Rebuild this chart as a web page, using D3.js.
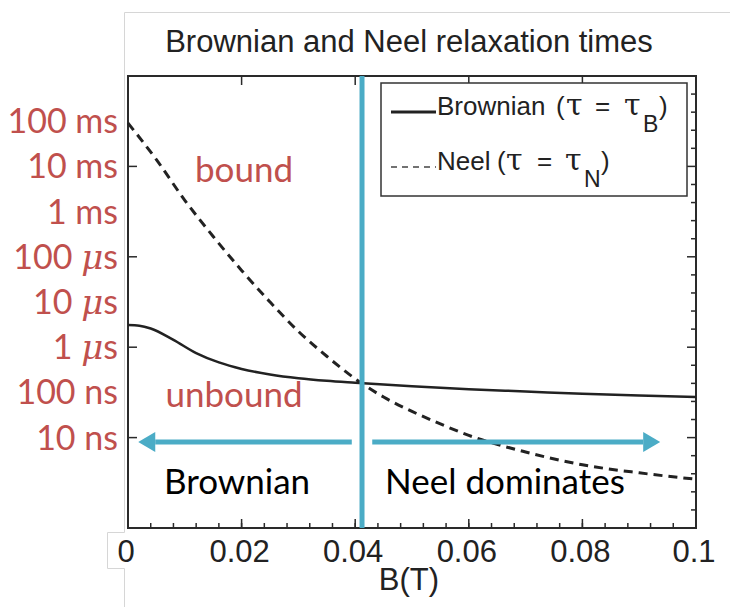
<!DOCTYPE html>
<html><head><meta charset="utf-8">
<script src="https://cdn.jsdelivr.net/npm/d3@7"></script>
<style>body{margin:0;background:#fff} svg{display:block}</style>
</head><body>
<svg id="c" width="730" height="607"></svg>
<script>
// ---- data ----
const bBrownian = [0, 0.002, 0.004, 0.008, 0.012, 0.016, 0.02, 0.025, 0.03, 0.035, 0.04, 0.05, 0.06, 0.07, 0.08, 0.09, 0.1];
const tauBrownian = [3.1e-6, 3.0e-6, 2.6e-6, 1.45e-6, 7.4e-7, 4.6e-7, 3.3e-7, 2.5e-7, 2.06e-7, 1.8e-7, 1.63e-7, 1.36e-7, 1.18e-7, 1.05e-7, 9.3e-8, 8.5e-8, 7.9e-8];
const bNeel = [0, 0.005, 0.01, 0.015, 0.02, 0.025, 0.03, 0.035, 0.04, 0.045, 0.05, 0.055, 0.06, 0.07, 0.08, 0.09, 0.1];
const tauNeel = [9.1e-2, 1.41e-2, 1.78e-3, 2.82e-4, 5.0e-5, 1.0e-5, 2.24e-6, 6.3e-7, 2.0e-7, 7.9e-8, 3.8e-8, 2.0e-8, 1.12e-8, 4.8e-9, 2.5e-9, 1.66e-9, 1.2e-9];
const xTickValues = [0, 0.02, 0.04, 0.06, 0.08, 0.1];
const xTickLabels = ["0", "0.02", "0.04", "0.06", "0.08", "0.1"];
const yLabelValues = [1e-1, 1e-2, 1e-3, 1e-4, 1e-5, 1e-6, 1e-7, 1e-8];
const yLabelNumbers = ["100", "10", "1", "100", "10", "1", "100", "10"];
const yLabelUnits = ["ms", "ms", "ms", "\u03bcs", "\u03bcs", "\u03bcs", "ns", "ns"];
const yMajorTicks = [1e-2, 1e-4, 1e-6, 1e-8];
const crossoverB = 0.0412;
const arrowLevel = 8e-9;
const arrowLeftB = [0.0394, 0.0018];
const arrowRightB = [0.043, 0.0937];

// ---- layout ----
const svg = d3.select("#c");
const L = 128, R = 696, T = 76, Bt = 528;
const x = d3.scaleLinear().domain([0, 0.1]).range([L, R]);
const y = d3.scaleLog().domain([1e-10, 1]).range([Bt, T]);
const ink = "#222";
const red = "#c0504d";
const blue = "#4bacc6";
const sans = "Liberation Sans, Arial, sans-serif";

// light grey frame of pasted figure
svg.append("path").attr("d", "M730,12.5H124.5V532.5H107.5V568.5H124.5V607")
  .attr("fill", "none").attr("stroke", "#d6d6d6").attr("stroke-width", 1);

// title
svg.append("text").attr("x", 409).attr("y", 52).attr("text-anchor", "middle")
  .attr("font-family", sans).attr("font-size", 31)
  .attr("fill", ink).text("Brownian and Neel relaxation times");

// axes box
svg.append("rect").attr("x", L).attr("y", T).attr("width", R - L).attr("height", Bt - T)
  .attr("fill", "none").attr("stroke", "#2a2a2a").attr("stroke-width", 2);

// ticks
const xMinor = d3.range(0, 26).map(i => i * 0.004).filter(v => v > 0 && v < 0.1);
const tk = svg.append("g").attr("stroke", "#2a2a2a").attr("stroke-width", 1.5);
xMinor.forEach(v => {
  tk.append("line").attr("x1", x(v)).attr("x2", x(v)).attr("y1", Bt).attr("y2", Bt - 5);
});
xTickValues.filter(v => v > 0 && v < 0.1).forEach(v => {
  tk.append("line").attr("x1", x(v)).attr("x2", x(v)).attr("y1", Bt).attr("y2", Bt - 9);
  tk.append("line").attr("x1", x(v)).attr("x2", x(v)).attr("y1", T).attr("y2", T + 9);
});
yMajorTicks.forEach(v => {
  tk.append("line").attr("x1", L).attr("x2", L + 9).attr("y1", y(v)).attr("y2", y(v));
  tk.append("line").attr("x1", R).attr("x2", R - 9).attr("y1", y(v)).attr("y2", y(v));
});
d3.range(1, 25).filter(k => k % 5 !== 0).map(k => Math.pow(10, -k * 0.4)).forEach(v => {
  tk.append("line").attr("x1", R).attr("x2", R - 5).attr("y1", y(v)).attr("y2", y(v));
});

// x tick labels
svg.append("g").selectAll("text").data(xTickValues).join("text")
  .attr("x", d => x(d) - 2).attr("y", 562).attr("text-anchor", "middle")
  .attr("font-family", sans).attr("font-size", 31)
  .attr("fill", ink).text((d, i) => xTickLabels[i]);
svg.append("text").attr("x", (L + R) / 2 - 3).attr("y", 590).attr("text-anchor", "middle")
  .attr("font-family", sans).attr("font-size", 31)
  .attr("fill", ink).text("B(T)");

// curves
const line = d3.line().x(d => x(d[0])).y(d => y(d[1])).curve(d3.curveMonotoneX);
svg.append("path").datum(bBrownian.map((b, i) => [b, tauBrownian[i]]))
  .attr("d", line).attr("fill", "none").attr("stroke", ink).attr("stroke-width", 2.5);
svg.append("path").datum(bNeel.map((b, i) => [b, tauNeel[i]]))
  .attr("d", line).attr("fill", "none").attr("stroke", ink).attr("stroke-width", 3)
  .attr("stroke-dasharray", "9,6");

// legend
svg.append("rect").attr("x", 381).attr("y", 83).attr("width", 306).attr("height", 113)
  .attr("fill", "#fff").attr("stroke", "#333").attr("stroke-width", 1.5);
svg.append("line").attr("x1", 391).attr("x2", 436).attr("y1", 112).attr("y2", 112)
  .attr("stroke", ink).attr("stroke-width", 3);
svg.append("line").attr("x1", 391).attr("x2", 436).attr("y1", 167).attr("y2", 167)
  .attr("stroke", "#444").attr("stroke-width", 1.5).attr("stroke-dasharray", "6,5");
function legendEntry(yb, name, sub, xs) {
  const g = svg.append("g").attr("font-family", sans).attr("font-size", 26).attr("fill", ink);
  g.append("text").attr("x", 437).attr("y", yb).text(name);
  g.append("text").attr("x", xs[0]).attr("y", yb).text("(");
  g.append("text").attr("x", xs[1]).attr("y", yb).attr("font-family", "'DejaVu Serif', serif").attr("font-size", 30).text("\u03c4");
  g.append("text").attr("x", xs[2]).attr("y", yb).text("=");
  g.append("text").attr("x", xs[3]).attr("y", yb).attr("font-family", "'DejaVu Serif', serif").attr("font-size", 30).text("\u03c4");
  g.append("text").attr("x", xs[4]).attr("y", yb + 17).attr("font-size", 23).text(sub);
  g.append("text").attr("x", xs[5]).attr("y", yb).text(")");
}
legendEntry(115, "Brownian", "B", [556, 566, 595, 624, 643, 659]);
legendEntry(170, "Neel", "N", [497, 506, 537, 565, 584, 601]);

// blue overlays
svg.append("line").attr("x1", x(crossoverB)).attr("x2", x(crossoverB)).attr("y1", T).attr("y2", Bt)
  .attr("stroke", blue).attr("stroke-width", 5);
const ay = y(arrowLevel);
function arrow(b0, b1) {
  const x0 = x(b0), x1 = x(b1), dir = Math.sign(x1 - x0), hl = 17, hw = 10;
  svg.append("line").attr("x1", x0).attr("x2", x1 - dir * hl).attr("y1", ay).attr("y2", ay)
    .attr("stroke", blue).attr("stroke-width", 5);
  svg.append("path").attr("d", `M${x1},${ay}L${x1 - dir * hl},${ay - hw}L${x1 - dir * hl},${ay + hw}Z`)
    .attr("fill", blue);
}
arrow(arrowLeftB[0], arrowLeftB[1]);
arrow(arrowRightB[0], arrowRightB[1]);

// red y labels
const lab = svg.append("g").attr("font-family", "Lato, 'Open Sans', sans-serif").attr("font-size", 34).attr("fill", red);
yLabelValues.forEach((v, i) => {
  const t = lab.append("text").attr("x", 118).attr("y", y(v) + 12).attr("text-anchor", "end");
  t.append("tspan").text(yLabelNumbers[i] + " ");
  if (yLabelUnits[i].startsWith("\u03bc")) {
    t.append("tspan").attr("font-family", "'DejaVu Serif', serif").attr("font-style", "italic").text("\u03bc");
    t.append("tspan").text("s");
  } else {
    t.append("tspan").text(yLabelUnits[i]);
  }
});

// region annotations
const ann = svg.append("g").attr("font-family", "Lato, 'Open Sans', sans-serif").attr("font-size", 35).attr("text-anchor", "middle");
ann.append("text").attr("x", 244).attr("y", 182).attr("fill", red).text("bound");
ann.append("text").attr("x", 234).attr("y", 407).attr("fill", red).text("unbound");
ann.append("text").attr("x", 237).attr("y", 494).attr("fill", "#000").text("Brownian");
ann.append("text").attr("x", 505).attr("y", 494).attr("fill", "#000").text("Neel dominates");
</script>
</body></html>
